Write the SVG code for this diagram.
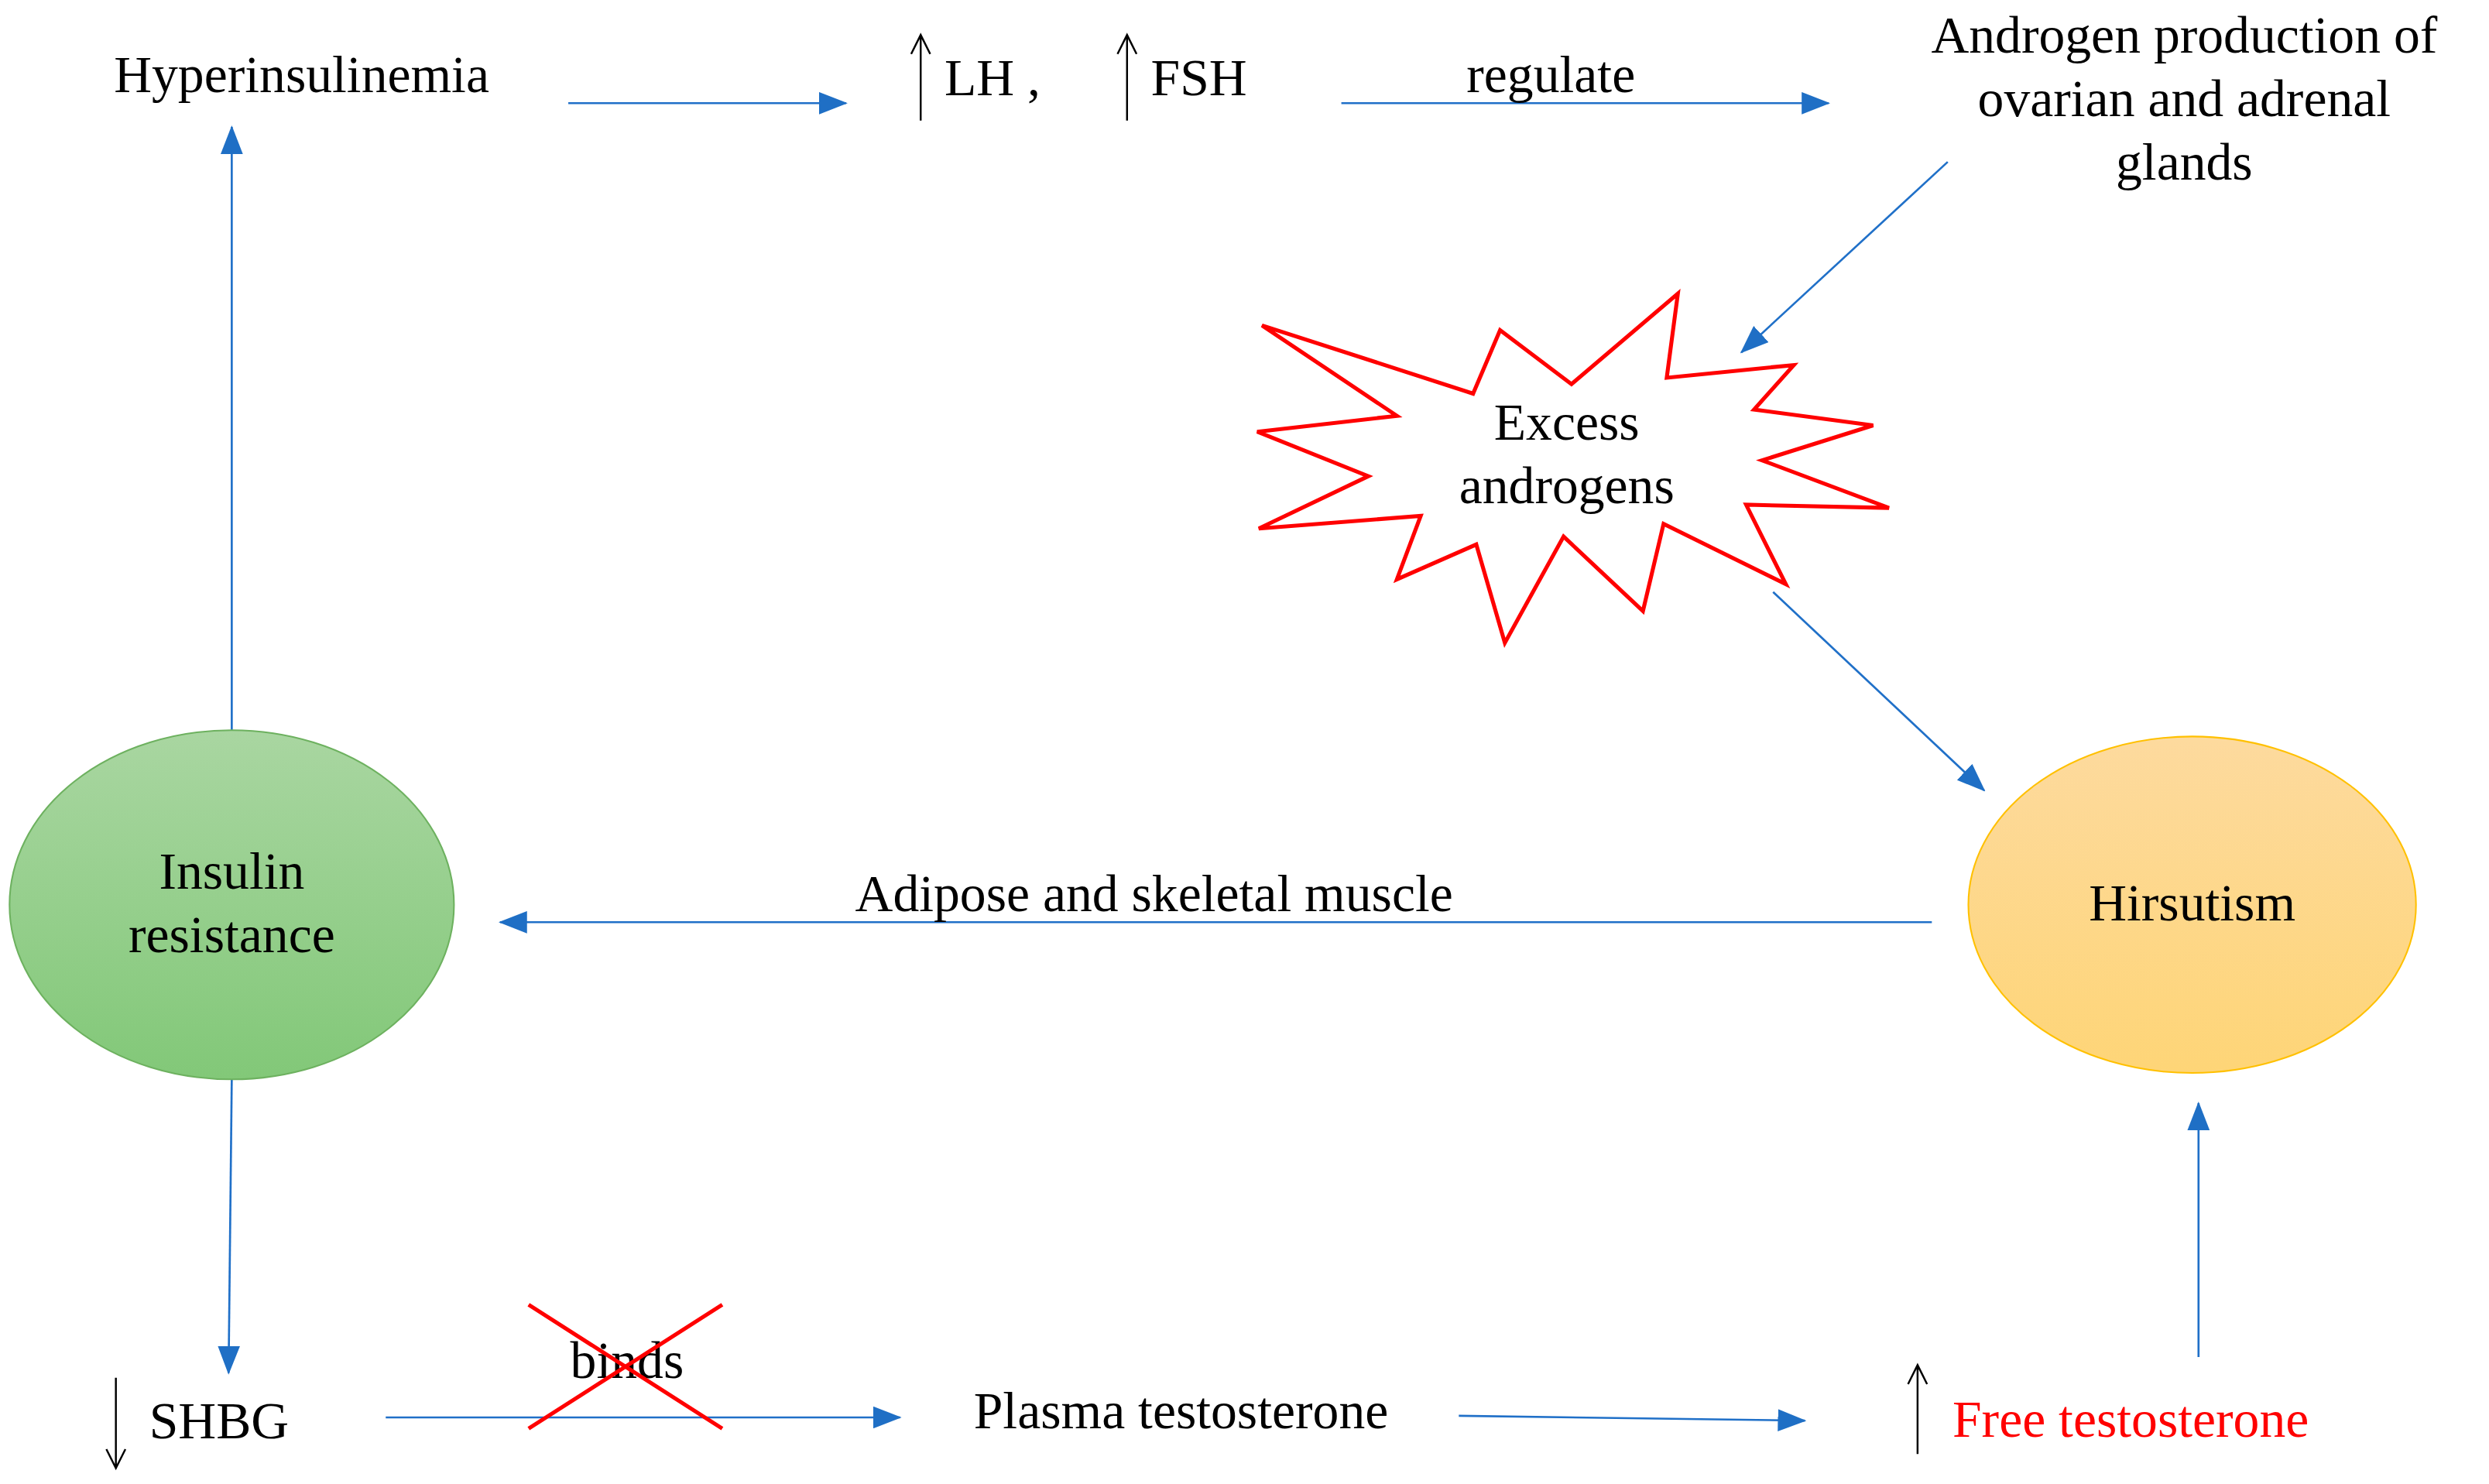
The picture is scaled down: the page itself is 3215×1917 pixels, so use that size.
<svg xmlns="http://www.w3.org/2000/svg" width="3215" height="1917" viewBox="0 0 3215 1917">
<defs>
<style>
.t{font-family:"Liberation Serif","Times New Roman",serif;font-size:33px;fill:#000;text-anchor:middle}
.c{stroke:#2070C8;stroke-width:1.3;fill:none}
.k{stroke:#000;stroke-width:1.2;fill:none}
</style>
<marker id="a" markerUnits="userSpaceOnUse" markerWidth="18" markerHeight="14" refX="17" refY="7" orient="auto" viewBox="0 0 18 14"><path d="M0,0 L18,7 L0,14 Z" fill="#1F6FC5"/></marker>
<linearGradient id="gg" x1="0" y1="0" x2="0" y2="1"><stop offset="0" stop-color="#A9D6A1"/><stop offset="1" stop-color="#82C878"/></linearGradient>
<linearGradient id="og" x1="0" y1="0" x2="0" y2="1"><stop offset="0" stop-color="#FDDA9E"/><stop offset="1" stop-color="#FED577"/></linearGradient>
</defs>
<rect width="3215" height="1917" fill="#fff"/>
<g transform="scale(2.0504)">
<g id="connectors">
<line class="c" x1="358" y1="65" x2="533" y2="65" marker-end="url(#a)"/>
<line class="c" x1="845" y1="65" x2="1152" y2="65" marker-end="url(#a)"/>
<line class="c" x1="1227" y1="102" x2="1097" y2="222" marker-end="url(#a)"/>
<line class="c" x1="1117" y1="373" x2="1250" y2="498" marker-end="url(#a)"/>
<line class="c" x1="146" y1="460" x2="146" y2="80" marker-end="url(#a)"/>
<line class="c" x1="1217" y1="581" x2="315" y2="581" marker-end="url(#a)"/>
<line class="c" x1="146" y1="680" x2="144" y2="865" marker-end="url(#a)"/>
<line class="c" x1="243" y1="893" x2="567" y2="893" marker-end="url(#a)"/>
<line class="c" x1="919" y1="892" x2="1137" y2="895" marker-end="url(#a)"/>
<line class="c" x1="1385" y1="855" x2="1385" y2="695" marker-end="url(#a)"/>
<text class="t" x="977" y="58">regulate</text>
<text class="t" x="727" y="574">Adipose and skeletal muscle</text>
<text class="t" x="395" y="868">binds</text>
<path d="M333,822 L455,900 M455,822 L333,900" stroke="#FF0000" stroke-width="2.5" fill="none"/>
</g>
<g id="hyperinsulinemia"><text class="t" x="190" y="58">Hyperinsulinemia</text></g>
<g id="lhfsh">
<path class="k" d="M580,76 V22 M574,34 L580,22 L586,34 M710,76 V22 M704,34 L710,22 L716,34"/>
<text class="t" x="595" y="60" style="text-anchor:start">LH ,</text>
<text class="t" x="725" y="60" style="text-anchor:start">FSH</text>
</g>
<g id="androgen-production">
<text class="t" x="1376" y="33">Androgen production of</text>
<text class="t" x="1376" y="73">ovarian and adrenal</text>
<text class="t" x="1376" y="113">glands</text>
</g>
<g id="excess-androgens">
<polygon points="795,205 880,262 792,272 862,300 793,333 895,325 880,365 930,343 948,405 985,338 1035,385 1048,330 1125,368 1100,318 1190,320 1110,290 1180,268 1105,258 1130,230 1050,238 1057,185 990,242 945,208 928,248" fill="#fff" stroke="#FF0000" stroke-width="2.5"/>
<text class="t" x="987" y="277">Excess</text>
<text class="t" x="987" y="317">androgens</text>
</g>
<g id="hirsutism">
<ellipse cx="1381" cy="570" rx="141" ry="106" fill="url(#og)" stroke="#FFC000" stroke-width="1"/>
<text class="t" x="1381" y="580">Hirsutism</text>
</g>
<g id="insulin-resistance">
<ellipse cx="146" cy="570" rx="140" ry="110" fill="url(#gg)" stroke="#6DB15F" stroke-width="1"/>
<text class="t" x="146" y="560">Insulin</text>
<text class="t" x="146" y="600">resistance</text>
</g>
<g id="shbg">
<path class="k" d="M73,868 V925 M67,913 L73,925 L79,913"/>
<text class="t" x="94" y="906" style="text-anchor:start">SHBG</text>
</g>
<g id="plasma-testosterone"><text class="t" x="744" y="900">Plasma testosterone</text></g>
<g id="free-testosterone">
<path class="k" d="M1208,916 V860 M1202,872 L1208,860 L1214,872"/>
<text class="t" x="1230" y="905" style="text-anchor:start;fill:#FF0000">Free testosterone</text>
</g>
</g>
</svg>
